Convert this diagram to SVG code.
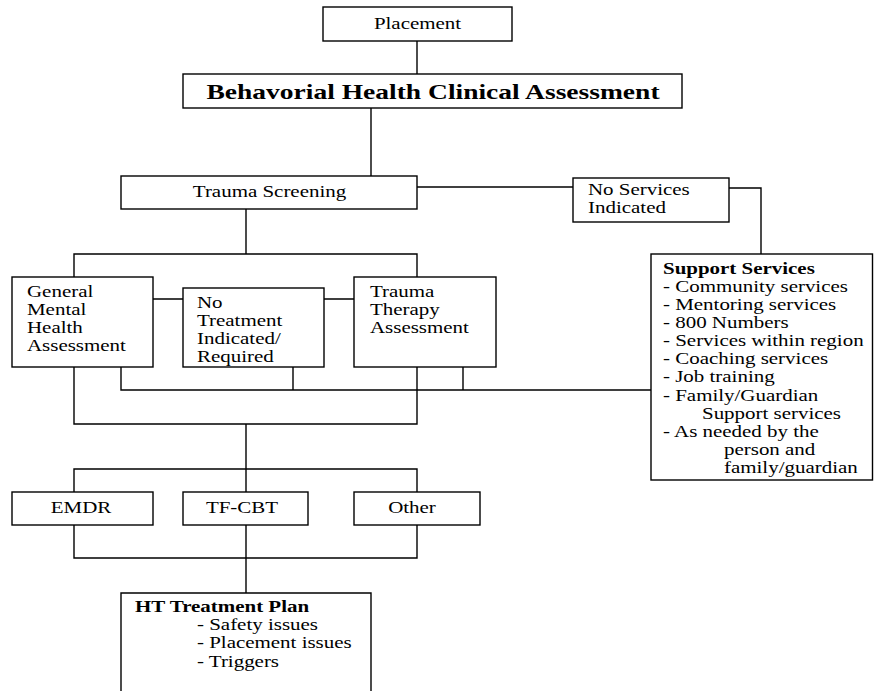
<svg xmlns="http://www.w3.org/2000/svg" width="874" height="691" viewBox="0 0 874 691">
<style>
.box{fill:#fff;stroke:#000;stroke-width:1.4}
.ln{fill:none;stroke:#000;stroke-width:1.4}
text{font-family:"Liberation Serif","Times New Roman",serif;font-size:16px;fill:#000}
.b{font-weight:bold}
.big{font-size:21px;font-weight:bold}
.c{text-anchor:middle}
</style>
<rect width="874" height="691" fill="#fff"/>
<g id="connectors">
<path class="ln" d="M417,41V74"/>
<path class="ln" d="M371,108V176"/>
<path class="ln" d="M417,187H573"/>
<path class="ln" d="M729,188H761V254"/>
<path class="ln" d="M246,209V254M74,277V254H417V277"/>
<path class="ln" d="M153,299H183M324,299H354"/>
<path class="ln" d="M121,367V390H651M293,367V390M463,367V390"/>
<path class="ln" d="M74,367V424H417V367M246,424V492"/>
<path class="ln" d="M74,492V469H417V492"/>
<path class="ln" d="M74,525V558H417V525M246,525V593"/>
</g>
<g id="placement">
<rect class="box" x="323" y="7" width="189" height="34"/>
<text class="c" transform="translate(417.5,29) scale(1.31,1)">Placement</text>
</g>
<g id="bhca">
<rect class="box" x="183" y="74" width="499" height="34"/>
<text class="big c" transform="translate(433,99) scale(1.31,1)">Behavorial Health Clinical Assessment</text>
</g>
<g id="trauma-screening">
<rect class="box" x="121" y="176" width="296" height="33"/>
<text class="c" transform="translate(269.5,197) scale(1.31,1)">Trauma Screening</text>
</g>
<g id="no-services">
<rect class="box" x="573" y="178" width="156" height="44"/>
<text transform="translate(588,195) scale(1.31,1)">No Services</text>
<text transform="translate(588,213) scale(1.31,1)">Indicated</text>
</g>
<g id="support-services">
<rect class="box" x="651" y="254" width="221.5" height="226"/>
<text class="b" transform="translate(663,274) scale(1.31,1)">Support Services</text>
<text transform="translate(663,292) scale(1.31,1)">- Community services</text>
<text transform="translate(663,310) scale(1.31,1)">- Mentoring services</text>
<text transform="translate(663,328) scale(1.31,1)">- 800 Numbers</text>
<text transform="translate(663,346) scale(1.31,1)">- Services within region</text>
<text transform="translate(663,364) scale(1.31,1)">- Coaching services</text>
<text transform="translate(663,382) scale(1.31,1)">- Job training</text>
<text transform="translate(663,401) scale(1.31,1)">- Family/Guardian</text>
<text transform="translate(702,419) scale(1.31,1)">Support services</text>
<text transform="translate(663,437) scale(1.31,1)">- As needed by the</text>
<text transform="translate(724,455) scale(1.31,1)">person and</text>
<text transform="translate(724,473) scale(1.31,1)">family/guardian</text>
</g>
<g id="general-mental-health">
<rect class="box" x="12" y="277" width="141" height="90"/>
<text transform="translate(27,297) scale(1.31,1)">General</text>
<text transform="translate(27,315) scale(1.31,1)">Mental</text>
<text transform="translate(27,333) scale(1.31,1)">Health</text>
<text transform="translate(27,351) scale(1.31,1)">Assessment</text>
</g>
<g id="no-treatment">
<rect class="box" x="183" y="288" width="141" height="79"/>
<text transform="translate(197,308) scale(1.31,1)">No</text>
<text transform="translate(197,326) scale(1.31,1)">Treatment</text>
<text transform="translate(197,344) scale(1.31,1)">Indicated/</text>
<text transform="translate(197,362) scale(1.31,1)">Required</text>
</g>
<g id="trauma-therapy">
<rect class="box" x="354" y="277" width="142" height="90"/>
<text transform="translate(370,297) scale(1.31,1)">Trauma</text>
<text transform="translate(370,315) scale(1.31,1)">Therapy</text>
<text transform="translate(370,333) scale(1.31,1)">Assessment</text>
</g>
<g id="emdr">
<rect class="box" x="12" y="492" width="141" height="33"/>
<text class="c" transform="translate(81,513) scale(1.31,1)">EMDR</text>
</g>
<g id="tf-cbt">
<rect class="box" x="183" y="492" width="125" height="33"/>
<text class="c" transform="translate(242,513) scale(1.31,1)">TF-CBT</text>
</g>
<g id="other">
<rect class="box" x="354" y="492" width="126" height="33"/>
<text class="c" transform="translate(412,513) scale(1.31,1)">Other</text>
</g>
<g id="ht-plan">
<path class="box" d="M121,692V593H371V692"/>
<text class="b" transform="translate(135,612) scale(1.31,1)">HT Treatment Plan</text>
<text transform="translate(197,630) scale(1.31,1)">- Safety issues</text>
<text transform="translate(197,648) scale(1.31,1)">- Placement issues</text>
<text transform="translate(197,667) scale(1.31,1)">- Triggers</text>
</g>
</svg>
